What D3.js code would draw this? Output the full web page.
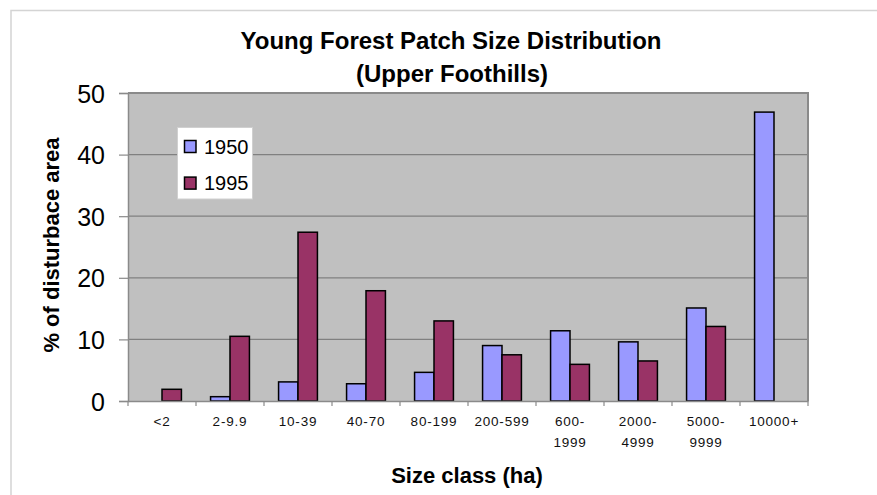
<!DOCTYPE html>
<html>
<head>
<meta charset="utf-8">
<script src="https://cdn.jsdelivr.net/npm/d3@7"></script>
<style>
  html, body { margin: 0; padding: 0; background: #fff; }
  svg { display: block; font-family: "Liberation Sans", Arial, sans-serif; }
</style>
</head>
<body>
<svg id="chart" width="877" height="495"></svg>
<script>
const categories = ["<2", "2-9.9", "10-39", "40-70", "80-199", "200-599", "600-\n1999", "2000-\n4999", "5000-\n9999", "10000+"];
const seriesNames = ["1950", "1995"];
const values1950 = [0, 0.7, 3.1, 2.8, 4.65, 9.0, 11.4, 9.6, 15.1, 46.9];
const values1995 = [1.9, 10.5, 27.4, 17.9, 13.0, 7.5, 5.95, 6.5, 12.1, 0];
const yTicks = [0, 10, 20, 30, 40, 50];
const colors = ["#9999FF", "#993366"];
const titleLines = ["Young Forest Patch Size Distribution", "(Upper Foothills)"];
const xTitle = "Size class (ha)";
const yTitle = "% of disturbace area";

const svg = d3.select("#chart");
const plot = { left: 128, right: 808, top: 93, bottom: 401 };

// outer frame (partial, as in reference)
svg.append("path")
  .attr("d", `M11,495 L11,10.5 L877,10.5`)
  .attr("fill", "none").attr("stroke", "#d4d4d4").attr("stroke-width", 1.5);

const x = d3.scaleBand().domain(categories).range([plot.left, plot.right]).padding(0);
const xs = d3.scaleBand().domain(seriesNames).range([0, x.bandwidth()]).paddingInner(0).paddingOuter(0.75);
const y = d3.scaleLinear().domain([0, 50]).range([plot.bottom, plot.top]);

// plot background
svg.append("rect")
  .attr("x", plot.left).attr("y", plot.top)
  .attr("width", plot.right - plot.left).attr("height", plot.bottom - plot.top)
  .attr("fill", "#C0C0C0");

// gridlines
svg.append("g").selectAll("line").data(yTicks.filter(t => t > 0 && t < 50)).join("line")
  .attr("x1", plot.left).attr("x2", plot.right)
  .attr("y1", d => y(d)).attr("y2", d => y(d))
  .attr("stroke", "#808080").attr("stroke-width", 1.2);

// plot border (top & right)
svg.append("path")
  .attr("d", `M${plot.left},${plot.top} L${plot.right},${plot.top} L${plot.right},${plot.bottom}`)
  .attr("fill", "none").attr("stroke", "#8a8a8a").attr("stroke-width", 2);

// bars
const data = [];
categories.forEach((c, i) => {
  data.push({ cat: c, s: "1950", v: values1950[i], color: colors[0] });
  data.push({ cat: c, s: "1995", v: values1995[i], color: colors[1] });
});
svg.append("g").selectAll("rect").data(data.filter(d => d.v > 0)).join("rect")
  .attr("x", d => x(d.cat) + xs(d.s))
  .attr("y", d => y(d.v))
  .attr("width", xs.bandwidth())
  .attr("height", d => y(0) - y(d.v))
  .attr("fill", d => d.color)
  .attr("stroke", "#000").attr("stroke-width", 1.5);

// y axis
const yAxis = svg.append("g").attr("transform", `translate(${plot.left},0)`)
  .call(d3.axisLeft(y).tickValues(yTicks).tickSize(9).tickPadding(14).tickFormat(d3.format("d")));
yAxis.select(".domain").attr("stroke", "#8a8a8a").attr("stroke-width", 1.5);
yAxis.selectAll(".tick line").attr("stroke", "#8a8a8a").attr("stroke-width", 1.2);
yAxis.selectAll(".tick text")
  .attr("font-size", 25).attr("fill", "#000")
  .attr("font-family", "'Liberation Sans', Arial, sans-serif")
  .attr("dy", "0.36em");

// x axis
const xAxis = svg.append("g").attr("transform", `translate(0,${plot.bottom})`)
  .call(d3.axisBottom(x).tickSize(0).tickFormat(""));
xAxis.select(".domain").attr("stroke", "#8a8a8a").attr("stroke-width", 1.5);
// boundary ticks
const bounds = categories.map(c => x(c)).concat([plot.right]);
xAxis.append("g").selectAll("line").data(bounds).join("line")
  .attr("x1", d => d).attr("x2", d => d).attr("y1", 0).attr("y2", 5)
  .attr("stroke", "#8a8a8a").attr("stroke-width", 1.2);

// x tick labels (multi-line)
const xl = svg.append("g");
categories.forEach(c => {
  const lines = c.split("\n");
  const t = xl.append("text")
    .attr("x", x(c) + x.bandwidth() / 2)
    .attr("y", 425.5)
    .attr("text-anchor", "middle")
    .attr("font-size", 13.5)
    .attr("letter-spacing", "0.8px")
    .attr("fill", "#111");
  lines.forEach((ln, k) => {
    t.append("tspan").attr("x", x(c) + x.bandwidth() / 2).attr("dy", k === 0 ? 0 : 21).text(ln);
  });
});

// title
svg.append("text").attr("x", 451).attr("y", 49).attr("text-anchor", "middle")
  .attr("font-size", 24).attr("font-weight", "bold").text(titleLines[0]);
svg.append("text").attr("x", 452).attr("y", 82).attr("text-anchor", "middle")
  .attr("font-size", 24).attr("font-weight", "bold").text(titleLines[1]);

// axis titles
svg.append("text").attr("x", 467).attr("y", 483).attr("text-anchor", "middle")
  .attr("font-size", 22).attr("font-weight", "bold").text(xTitle);
svg.append("text")
  .attr("transform", "translate(59,245) rotate(-90)")
  .attr("text-anchor", "middle")
  .attr("font-size", 22).attr("font-weight", "bold").text(yTitle);

// legend
const lg = svg.append("g");
lg.append("rect").attr("x", 177.5).attr("y", 127.5).attr("width", 75).attr("height", 71.5)
  .attr("fill", "#fff").attr("stroke", "#d0d0d0").attr("stroke-width", 1);
seriesNames.forEach((s, i) => {
  const yy = 140.5 + i * 36.6;
  lg.append("rect").attr("x", 184.5).attr("y", yy).attr("width", 11.5).attr("height", 12)
    .attr("fill", colors[i]).attr("stroke", "#000").attr("stroke-width", 1.5);
  lg.append("text").attr("x", 204).attr("y", yy + 13).attr("font-size", 20)
    .attr("fill", "#000").text(s);
});
</script>
</body>
</html>
